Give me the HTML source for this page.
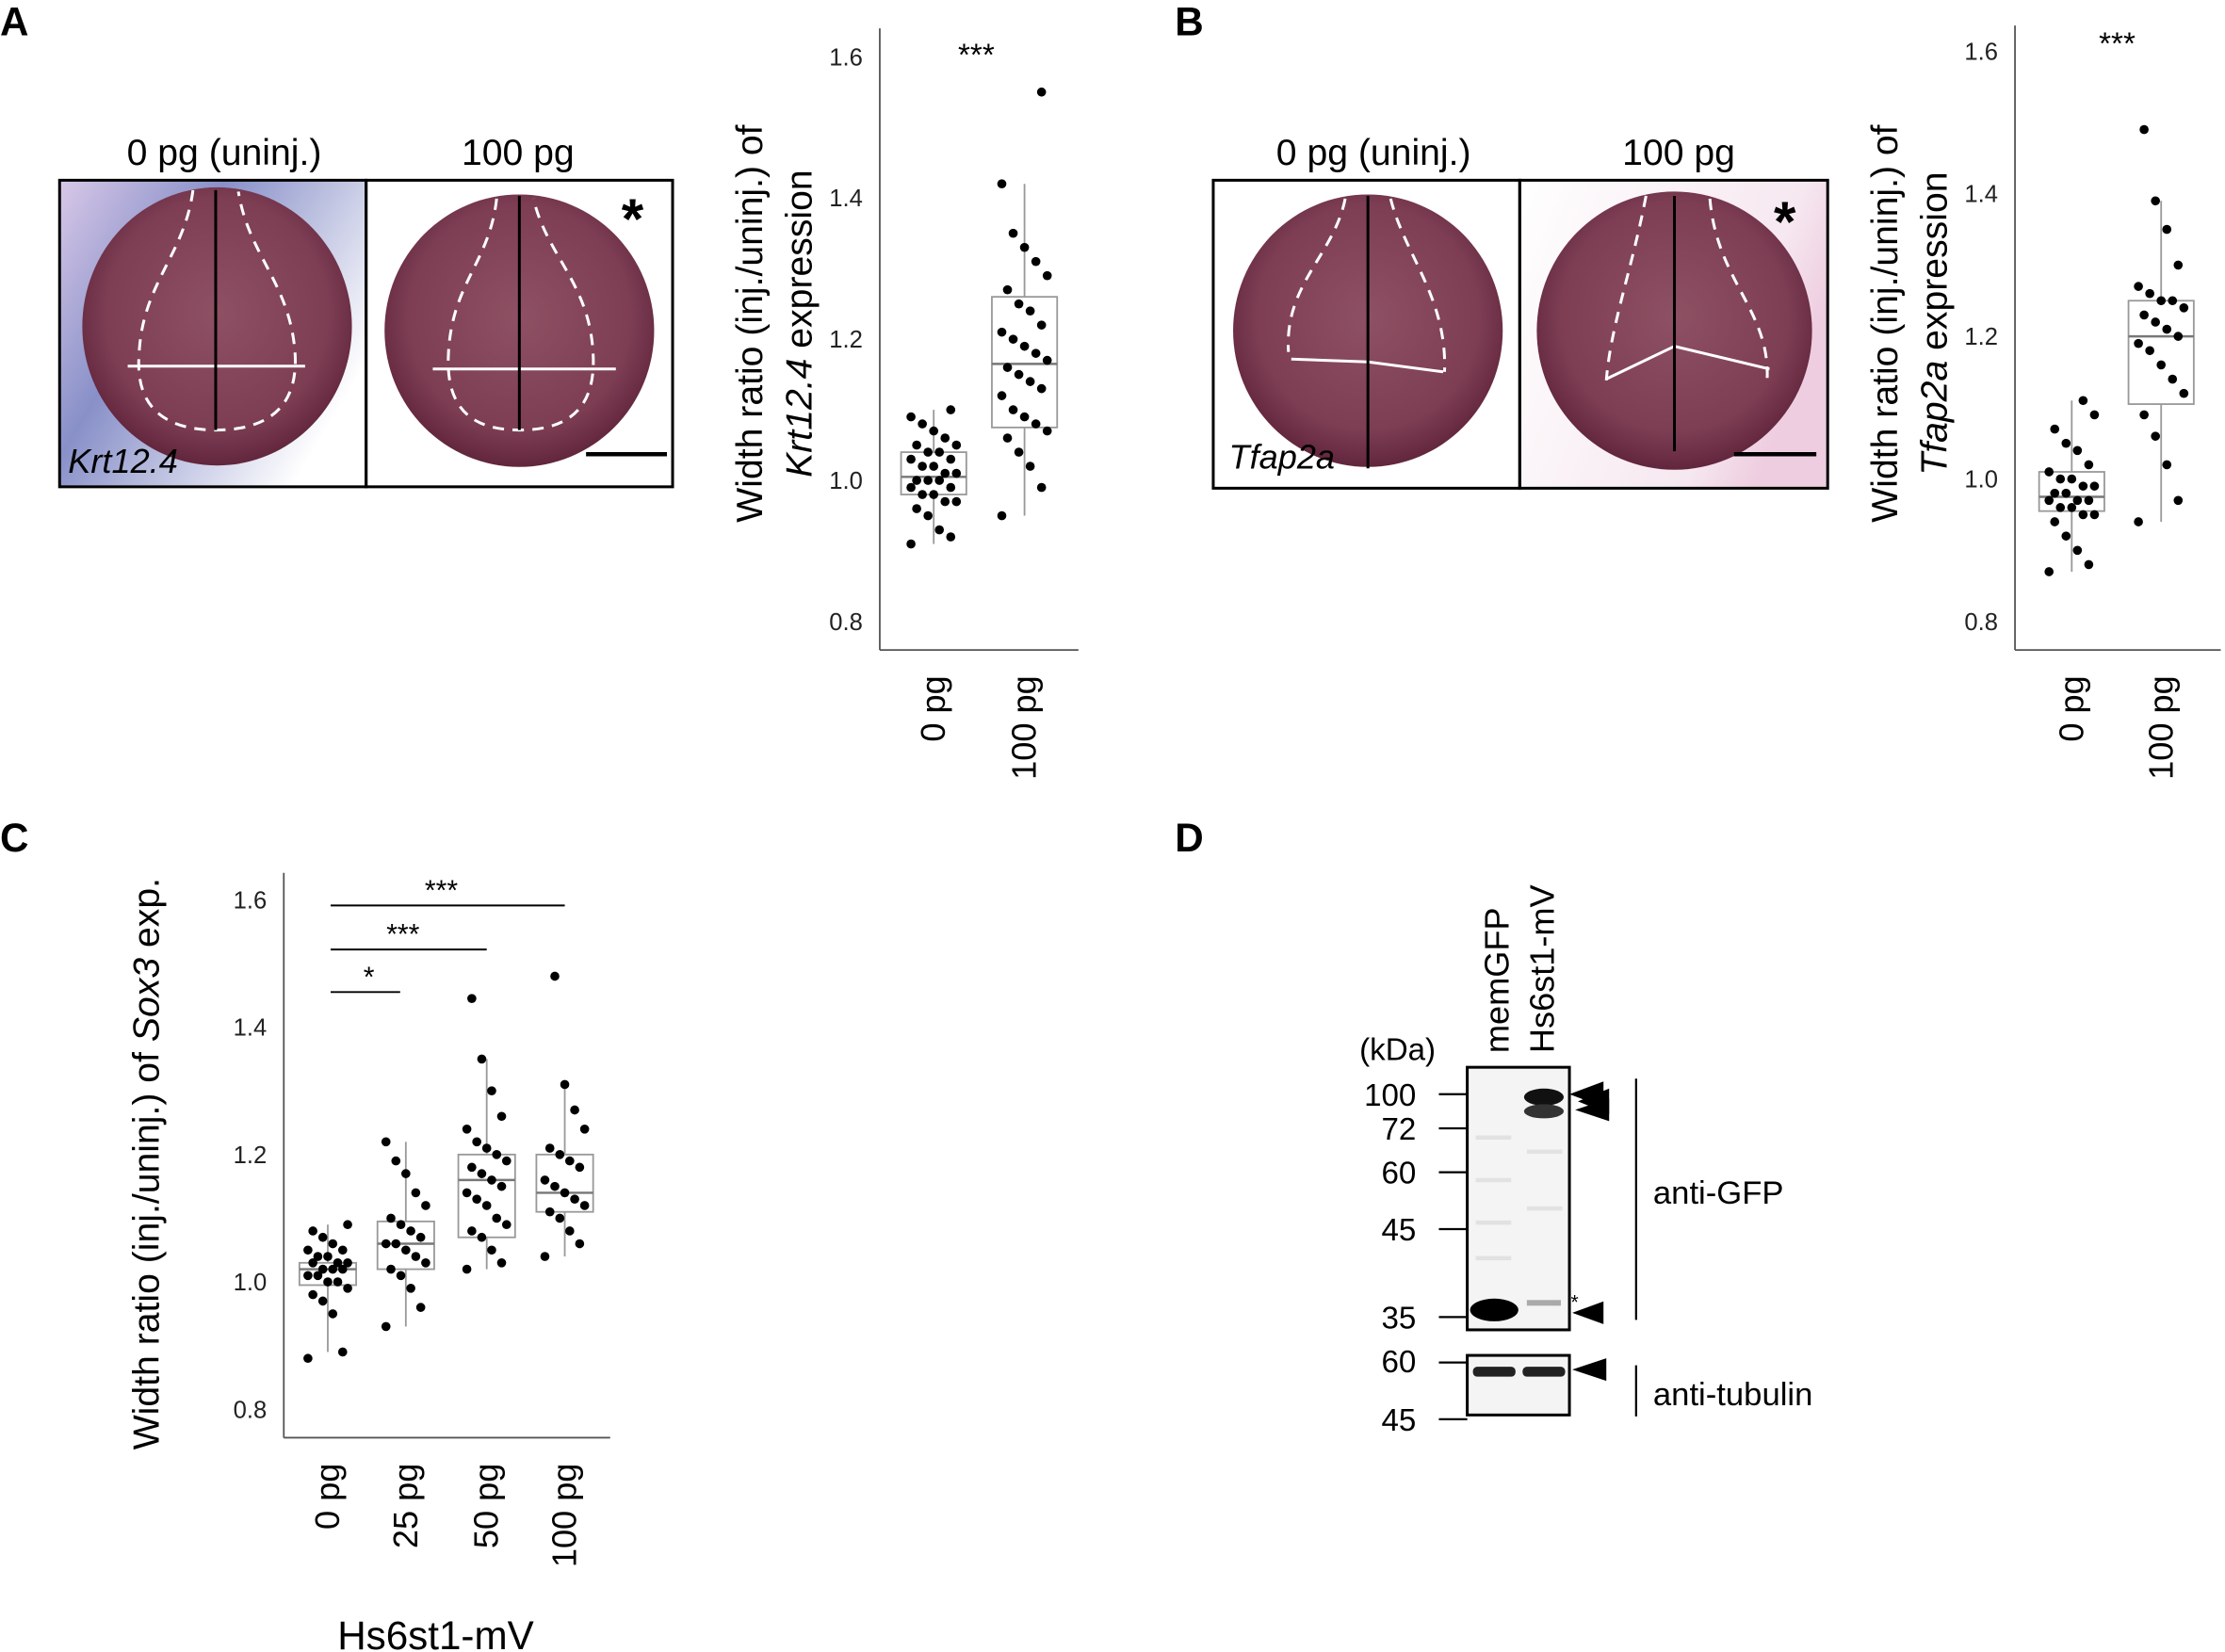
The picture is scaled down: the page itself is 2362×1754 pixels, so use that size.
<!DOCTYPE html>
<html><head><meta charset="utf-8">
<style>
html,body{margin:0;padding:0;background:#fff;}
svg{display:block;font-family:"Liberation Sans",Arial,sans-serif;}
</style></head>
<body>
<svg id="fig" width="2362" height="1754" viewBox="0 0 1568 1164" preserveAspectRatio="none" xmlns="http://www.w3.org/2000/svg">
<defs>
<radialGradient id="emb" cx="50%" cy="45%" r="55%">
<stop offset="0%" stop-color="#8e5063"/><stop offset="75%" stop-color="#7d3e54"/><stop offset="100%" stop-color="#62263c"/>
</radialGradient>
<linearGradient id="bgblue" x1="0" y1="0" x2="1" y2="0.6">
<stop offset="0%" stop-color="#d8c8e8"/><stop offset="40%" stop-color="#8890c8"/><stop offset="100%" stop-color="#ffffff"/>
</linearGradient>
<linearGradient id="bgpink" x1="0" y1="0" x2="1" y2="0.4">
<stop offset="0%" stop-color="#ffffff"/><stop offset="80%" stop-color="#f6e8f0"/><stop offset="100%" stop-color="#eecde0"/>
</linearGradient>
</defs>

<g font-weight="bold" font-size="28">
<text x="0" y="25">A</text><text x="828" y="25">B</text><text x="0" y="600">C</text><text x="828" y="600">D</text>
</g>

<g>
<text x="158" y="116" font-size="26" text-anchor="middle">0 pg (uninj.)</text>
<text x="365" y="116" font-size="26" text-anchor="middle">100 pg</text>
<rect x="42" y="127" width="216" height="216" fill="url(#bgblue)"/>
<rect x="258" y="127" width="216" height="216" fill="#fff"/>
<ellipse cx="153" cy="230" rx="95" ry="98" fill="url(#emb)"/>
<ellipse cx="366" cy="233" rx="95" ry="96" fill="url(#emb)"/>
<g fill="none" stroke="#fff" stroke-width="2" stroke-dasharray="8,6">
<path d="M136 134 C130 180 100 200 98 250 C95 290 120 303 152 303 C185 303 210 290 208 250 C205 200 175 180 168 135"/>
<path d="M350 140 C345 185 318 200 316 250 C314 290 335 303 366 303 C398 303 420 290 418 250 C416 200 385 180 376 140"/>
</g>
<g stroke="#fff" stroke-width="2"><line x1="90" y1="258" x2="215" y2="258"/><line x1="305" y1="260" x2="434" y2="260"/></g>
<g stroke="#000" stroke-width="2"><line x1="152" y1="134" x2="152" y2="303"/><line x1="366" y1="138" x2="366" y2="303"/><line x1="413" y1="320" x2="470" y2="320" stroke-width="3"/></g>
<text x="438" y="168" font-size="40" font-weight="bold">*</text>
<text x="48" y="333" font-size="24" font-style="italic">Krt12.4</text>
<rect x="42" y="127" width="216" height="216" fill="none" stroke="#000" stroke-width="2"/>
<rect x="258" y="127" width="216" height="216" fill="none" stroke="#000" stroke-width="2"/>
</g>

<g>
<text x="968" y="116" font-size="26" text-anchor="middle">0 pg (uninj.)</text>
<text x="1183" y="116" font-size="26" text-anchor="middle">100 pg</text>
<rect x="855" y="127" width="216" height="217" fill="#fff"/>
<rect x="1071" y="127" width="217" height="217" fill="url(#bgpink)"/>
<ellipse cx="964" cy="233" rx="95" ry="96" fill="url(#emb)"/>
<ellipse cx="1180" cy="233" rx="97" ry="98" fill="url(#emb)"/>
<g fill="none" stroke="#fff" stroke-width="2" stroke-dasharray="8,6">
<path d="M948 140 C940 180 905 200 908 248"/><path d="M980 140 C990 180 1020 210 1018 262"/>
<path d="M1160 138 C1150 190 1135 230 1132 268"/><path d="M1205 140 C1210 200 1250 220 1245 272"/>
</g>
<g stroke="#fff" stroke-width="2"><polyline fill="none" points="910,253 964,255 1017,262"/><polyline fill="none" points="1132,267 1180,244 1247,260"/></g>
<g stroke="#000" stroke-width="2"><line x1="964" y1="138" x2="964" y2="330"/><line x1="1180" y1="138" x2="1180" y2="318"/><line x1="1222" y1="320" x2="1280" y2="320" stroke-width="3"/></g>
<text x="1250" y="170" font-size="40" font-weight="bold">*</text>
<text x="866" y="330" font-size="24" font-style="italic">Tfap2a</text>
<rect x="855" y="127" width="216" height="217" fill="none" stroke="#000" stroke-width="2"/>
<rect x="1071" y="127" width="217" height="217" fill="none" stroke="#000" stroke-width="2"/>
</g>

<g id="charts"></g>

<g>
<text x="1063" y="742" font-size="24" transform="rotate(-90 1063 742)">memGFP</text>
<text x="1095" y="742" font-size="24" transform="rotate(-90 1095 742)">Hs6st1-mV</text>
<text x="958" y="747" font-size="22">(kDa)</text>
<rect x="1034" y="752" width="72" height="185" fill="#f4f4f4" stroke="#000" stroke-width="2"/>
<g fill="#e2e2e2"><rect x="1040" y="800" width="25" height="3"/><rect x="1040" y="830" width="25" height="3"/><rect x="1040" y="860" width="25" height="3"/><rect x="1040" y="885" width="25" height="3"/><rect x="1076" y="810" width="25" height="3"/><rect x="1076" y="850" width="25" height="3"/></g>
<ellipse cx="1053" cy="923" rx="17" ry="8" fill="#000"/>
<ellipse cx="1088" cy="773" rx="14" ry="6" fill="#111"/>
<ellipse cx="1088" cy="783" rx="14" ry="5" fill="#333"/>
<rect x="1076" y="916" width="24" height="4" fill="#aaa"/>
<rect x="1034" y="955" width="72" height="42" fill="#f4f4f4" stroke="#000" stroke-width="2"/>
<rect x="1038" y="963" width="30" height="7" rx="3" fill="#222"/>
<rect x="1073" y="963" width="30" height="7" rx="3" fill="#222"/>
<g font-size="22" text-anchor="end">
<text x="998" y="779">100</text><text x="998" y="803">72</text><text x="998" y="834">60</text><text x="998" y="874">45</text><text x="998" y="936">35</text><text x="998" y="967">60</text><text x="998" y="1008">45</text>
</g>
<g stroke="#000" stroke-width="1.5"><line x1="1014" y1="771" x2="1034" y2="771"/><line x1="1014" y1="795" x2="1034" y2="795"/><line x1="1014" y1="826" x2="1034" y2="826"/><line x1="1014" y1="866" x2="1034" y2="866"/><line x1="1014" y1="928" x2="1034" y2="928"/><line x1="1014" y1="960" x2="1034" y2="960"/><line x1="1014" y1="1000" x2="1034" y2="1000"/>
<line x1="1153" y1="760" x2="1153" y2="930"/><line x1="1153" y1="962" x2="1153" y2="998"/></g>
<g fill="#000"><polygon points="1106,771 1130,762 1130,780"/><polygon points="1112,776 1134,767 1134,785"/><polygon points="1110,782 1134,774 1134,790"/><polygon points="1108,925 1130,917 1130,933"/><polygon points="1108,965 1132,957 1132,973"/></g>
<text x="1107" y="922" font-size="14">*</text>
<text x="1165" y="848" font-size="23">anti-GFP</text>
<text x="1165" y="990" font-size="23">anti-tubulin</text>
</g>
</svg>
<script>
const catsA = ["0 pg","100 pg"];
const ptsA0 = [0.91,0.92,0.93,0.95,0.96,0.97,0.97,0.98,0.98,0.99,0.99,1.0,1.0,1.0,1.01,1.01,1.02,1.02,1.03,1.03,1.04,1.04,1.05,1.05,1.06,1.07,1.08,1.09,1.10];
const ptsA1 = [0.95,0.99,1.02,1.04,1.06,1.07,1.08,1.09,1.10,1.12,1.13,1.14,1.15,1.16,1.17,1.18,1.19,1.20,1.21,1.22,1.24,1.25,1.27,1.29,1.31,1.33,1.35,1.42,1.55];
const boxA0 = [0.91,0.98,1.005,1.04,1.10];
const boxA1 = [0.95,1.075,1.165,1.26,1.42];
const catsB = ["0 pg","100 pg"];
const ptsB0 = [0.87,0.88,0.90,0.92,0.94,0.95,0.95,0.96,0.96,0.97,0.97,0.97,0.98,0.98,0.99,0.99,1.0,1.0,1.01,1.02,1.04,1.05,1.07,1.09,1.11];
const ptsB1 = [0.94,0.97,1.02,1.06,1.09,1.12,1.14,1.16,1.18,1.19,1.20,1.21,1.22,1.23,1.24,1.25,1.25,1.26,1.27,1.30,1.35,1.39,1.49];
const boxB0 = [0.87,0.955,0.975,1.01,1.11];
const boxB1 = [0.94,1.105,1.20,1.25,1.39];
const catsC = ["0 pg","25 pg","50 pg","100 pg"];
const ptsC0 = [0.88,0.89,0.95,0.97,0.98,0.99,1.0,1.0,1.01,1.01,1.02,1.02,1.02,1.03,1.03,1.03,1.04,1.04,1.05,1.05,1.06,1.07,1.08,1.09];
const ptsC1 = [0.93,0.96,0.99,1.01,1.02,1.03,1.04,1.05,1.06,1.06,1.07,1.08,1.09,1.10,1.12,1.14,1.17,1.19,1.22];
const ptsC2 = [1.02,1.03,1.05,1.07,1.08,1.09,1.10,1.12,1.13,1.14,1.15,1.16,1.17,1.18,1.19,1.20,1.21,1.22,1.24,1.26,1.30,1.35,1.445];
const ptsC3 = [1.04,1.06,1.08,1.10,1.11,1.12,1.13,1.14,1.15,1.16,1.18,1.19,1.20,1.21,1.24,1.27,1.31,1.48];
const boxC = [[0.89,0.995,1.02,1.03,1.09],[0.93,1.02,1.06,1.095,1.22],[1.02,1.07,1.16,1.20,1.35],[1.04,1.11,1.14,1.20,1.31]];
const ticks = [0.8,1.0,1.2,1.4,1.6];
const tickLabels = ["0.8","1.0","1.2","1.4","1.6"];

const NS="http://www.w3.org/2000/svg";
const root=document.getElementById('charts');
function mk(tag,attrs,parent){const e=document.createElementNS(NS,tag);for(const k in attrs)e.setAttribute(k,attrs[k]);(parent||root).appendChild(e);return e;}

function chart(cfg){
  const g=mk('g',{});
  
  
  const y=v=>cfg.y0+(v-0.8)/0.8*(cfg.y1-cfg.y0);
  const x=i=>cfg.xs[i];
  mk('line',{x1:cfg.ax,y1:cfg.top,x2:cfg.ax,y2:cfg.base,stroke:'#555','stroke-width':1.2},g);
  mk('line',{x1:cfg.ax,y1:cfg.base,x2:cfg.axEnd,y2:cfg.base,stroke:'#555','stroke-width':1.2},g);
  ticks.forEach((t,i)=>{
    const tl=mk('text',{x:cfg.ax-12,y:y(t)+6,'font-size':17,'text-anchor':'end',fill:'#222'},g);
    tl.textContent=tickLabels[i];
    
    
  });
  cfg.cats.forEach((c,i)=>{
    const tx=mk('text',{x:x(i)+8,y:cfg.base+18,'font-size':24,'text-anchor':'end',transform:`rotate(-90 ${x(i)+8} ${cfg.base+18})`},g);
    tx.textContent=c;
    
    
    const b=cfg.boxes[i], w=cfg.bw;
    const bg=mk('g',{},g);
    
    
    mk('line',{x1:x(i),y1:y(b[0]),x2:x(i),y2:y(b[1]),stroke:'#999','stroke-width':1.2},bg);
    mk('line',{x1:x(i),y1:y(b[3]),x2:x(i),y2:y(b[4]),stroke:'#999','stroke-width':1.2},bg);
    mk('rect',{x:x(i)-w/2,y:y(b[3]),width:w,height:y(b[1])-y(b[3]),fill:'none',stroke:'#999','stroke-width':1.2},bg);
    mk('line',{x1:x(i)-w/2,y1:y(b[2]),x2:x(i)+w/2,y2:y(b[2]),stroke:'#777','stroke-width':1.6},bg);
    cfg.pts[i].forEach((v,j)=>{
      const off=(((j*7)%9)-4)*cfg.jit;
      const d=mk('circle',{cx:x(i)+off,cy:y(v),r:3.2,fill:'#000'},bg);
      
      
    });
  });
  return {g,y,x};
}

const A=chart({name:'chart-a-krt12-4',y0:438,y1:40,ax:620,axEnd:760,top:20,base:458,xs:[658,722],bw:46,cats:catsA,pts:[ptsA0,ptsA1],boxes:[boxA0,boxA1],jit:4});
mk('text',{x:688,y:46,'font-size':22,'text-anchor':'middle'},A.g).textContent='***';
let t=mk('text',{x:537,y:228,'font-size':26,'text-anchor':'middle',transform:'rotate(-90 537 228)'},A.g);t.textContent='Width ratio (inj./uninj.) of';
t=mk('text',{x:572,y:228,'font-size':26,'text-anchor':'middle',transform:'rotate(-90 572 228)'},A.g);
t.innerHTML='<tspan font-style="italic">Krt12.4</tspan> expression';

const B=chart({name:'chart-b-tfap2a',y0:438,y1:36,ax:1420,axEnd:1565,top:18,base:458,xs:[1460,1523],bw:46,cats:catsB,pts:[ptsB0,ptsB1],boxes:[boxB0,boxB1],jit:4});
mk('text',{x:1492,y:38,'font-size':22,'text-anchor':'middle'},B.g).textContent='***';
t=mk('text',{x:1337,y:228,'font-size':26,'text-anchor':'middle',transform:'rotate(-90 1337 228)'},B.g);t.textContent='Width ratio (inj./uninj.) of';
t=mk('text',{x:1372,y:228,'font-size':26,'text-anchor':'middle',transform:'rotate(-90 1372 228)'},B.g);
t.innerHTML='<tspan font-style="italic">Tfap2a</tspan> expression';

const C=chart({name:'chart-c-sox3',y0:993,y1:634,ax:200,axEnd:430,top:615,base:1013,xs:[231,286,343,398],bw:40,cats:catsC,pts:[ptsC0,ptsC1,ptsC2,ptsC3],boxes:boxC,jit:3.5});
[[638,233,398,311,'***'],[669,233,343,284,'***'],[699,233,282,260,'*']].forEach(s=>{
  mk('line',{x1:s[1],y1:s[0],x2:s[2],y2:s[0],stroke:'#000','stroke-width':1.3},C.g);
  mk('text',{x:s[3],y:s[0]-4,'font-size':20,'text-anchor':'middle'},C.g).textContent=s[4];
});
t=mk('text',{x:112,y:820,'font-size':26,'text-anchor':'middle',transform:'rotate(-90 112 820)'},C.g);
t.innerHTML='Width ratio (inj./uninj.) of <tspan font-style="italic">Sox3</tspan> exp.';
mk('text',{x:307,y:1162,'font-size':28,'text-anchor':'middle'},C.g).textContent='Hs6st1-mV';
</script>
</body></html>
